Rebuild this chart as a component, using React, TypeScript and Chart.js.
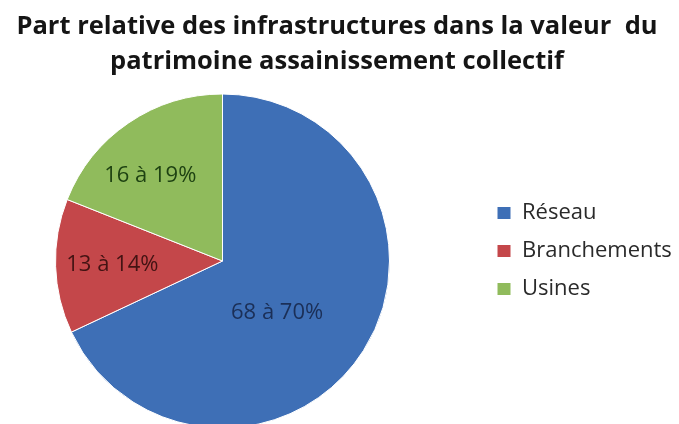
import React, { useEffect, useRef } from "react";
import { Chart, registerables } from "chart.js";

Chart.register(...registerables);

const titleLines = ["Part relative des infrastructures dans la valeur  du", "patrimoine assainissement collectif"];
const categories = ["Réseau", "Branchements", "Usines"];
const shares = [68, 13, 19];
const labelTexts = ["68 à 70%", "13 à 14%", "16 à 19%"];

const sliceColors = ["#3E6FB6", "#C4474A", "#90BB5C"];
const labelColors = ["#1B2F57", "#431313", "#1E4212"];
const labelRadiusFrac = [0.45, 0.66, 0.67];
const labelAngleOffsetDeg = [11, 0, -6];

const FONT = "'Open Sans', 'Noto Sans', sans-serif";
const SHIFT = 36;
const CANVAS_W = 800;
const LEGEND_FONT_SIZE = 22;
const LEGEND_BOX = 14;
const LEGEND_PAD = 16;
const PLOT_RIGHT = 517; // right edge of plot area in canvas px

const sliceLabelsPlugin = {
  id: "sliceLabels",
  afterDatasetsDraw(chart: any) {
    const meta = chart.getDatasetMeta(0);
    const ctx = chart.ctx;
    ctx.save();
    ctx.font = `22px ${FONT}`;
    ctx.textAlign = "center";
    ctx.textBaseline = "middle";
    meta.data.forEach((arc: any, i: number) => {
      const p = arc.getProps(["x", "y", "startAngle", "endAngle", "outerRadius"], true);
      const a = (p.startAngle + p.endAngle) / 2 + (labelAngleOffsetDeg[i] * Math.PI) / 180;
      const r = p.outerRadius * labelRadiusFrac[i];
      ctx.fillStyle = labelColors[i];
      ctx.fillText(labelTexts[i], p.x + Math.cos(a) * r, p.y + Math.sin(a) * r);
    });
    ctx.restore();
  },
};

export default function App() {
  const ref = useRef<HTMLCanvasElement>(null);
  useEffect(() => {
    if (!ref.current) return;
    const mctx = ref.current.getContext("2d")!;
    mctx.font = `${LEGEND_FONT_SIZE}px ${FONT}`;
    const maxText = Math.max(...categories.map((c) => mctx.measureText(c).width));
    const legendW = LEGEND_PAD + LEGEND_BOX + LEGEND_FONT_SIZE / 2 + maxText + 10;
    const padRight = Math.max(0, CANVAS_W - PLOT_RIGHT - legendW);

    const chart = new Chart(ref.current, {
      type: "pie",
      data: {
        labels: categories,
        datasets: [
          {
            data: shares,
            backgroundColor: sliceColors,
            borderColor: "#ffffff",
            borderWidth: 1,
            radius: 167,
            clip: false,
          } as any,
        ],
      },
      options: {
        responsive: false,
        maintainAspectRatio: false,
        animation: false,
        layout: { padding: { left: 0, right: padRight, top: 186, bottom: 88 } },
        plugins: {
          title: { display: false },
          tooltip: { enabled: false },
          legend: {
            display: true,
            position: "right",
            align: "start",
            fullSize: false,
            labels: {
              boxWidth: LEGEND_BOX,
              boxHeight: 13,
              padding: LEGEND_PAD,
              color: "#2a2a2a",
              font: { family: FONT, size: LEGEND_FONT_SIZE },
            },
          },
        },
      },
      plugins: [sliceLabelsPlugin],
    });
    return () => chart.destroy();
  }, []);

  return (
    <div style={{ position: "absolute", left: 0, top: 0, width: 679, height: 424, overflow: "hidden", background: "#ffffff" }}>
      <canvas ref={ref} width={CANVAS_W} height={424} style={{ position: "absolute", left: -SHIFT, top: 0 }} />
      <div
        style={{
          position: "absolute",
          left: 0,
          top: 7,
          width: 674,
          textAlign: "center",
          fontFamily: FONT,
          fontWeight: 700,
          fontSize: 25.5,
          lineHeight: "35px",
          color: "#151515",
          whiteSpace: "pre",
        }}
      >
        {titleLines.map((t, i) => (
          <div key={i}>{t}</div>
        ))}
      </div>
    </div>
  );
}
